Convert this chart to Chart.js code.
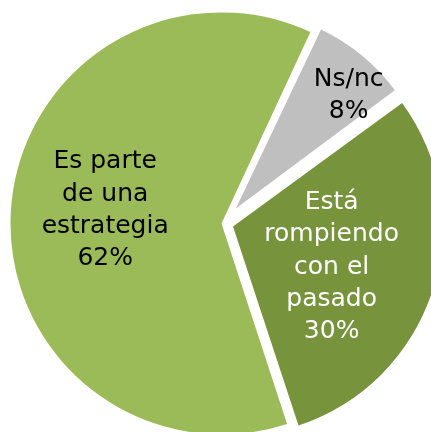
<!DOCTYPE html>
<html>
<head>
<meta charset="utf-8">
<script src="https://cdn.jsdelivr.net/npm/chart.js@4"></script>
<style>
  html, body { margin: 0; padding: 0; background: #fff; }
  #wrap { width: 431px; height: 432px; }
</style>
</head>
<body>
<div id="wrap"><canvas id="pie"></canvas></div>
<script>
// data
const categories = ["Ns/nc", "Está rompiendo con el pasado", "Es parte de una estrategia"];
const labelLines = [["Ns/nc"], ["Está", "rompiendo", "con el", "pasado"], ["Es parte", "de una", "estrategia"]];
const shares = [8, 30, 62];

// look
const colors = ["#BFBFBF", "#77933C", "#9BBB59"];
const textColors = ["#000000", "#ffffff", "#000000"];
const offsets = [78, 40, 8];
const sliceRadius = [188, 209, 209];
const labelDist = [0.85, 0.51, 0.56];
const labelTurn = [5.5, 4.5, 3];
const lineHeight = 32.4;

const sliceTweaks = {
  id: "sliceTweaks",
  afterDatasetsUpdate(chart) {
    chart.getDatasetMeta(0).data.forEach((arc, i) => { arc.outerRadius = sliceRadius[i]; });
  },
  afterDatasetsDraw(chart) {
    const ctx = chart.ctx;
    ctx.save();
    ctx.font = '25px "DejaVu Sans"';
    ctx.textAlign = "center";
    ctx.textBaseline = "middle";
    chart.getDatasetMeta(0).data.forEach((arc, i) => {
      const mid = (arc.startAngle + arc.endAngle) / 2;
      const shift = offsets[i] / 4;
      const a = mid + labelTurn[i] * Math.PI / 180;
      const r = arc.outerRadius * labelDist[i];
      const cx = arc.x + Math.cos(mid) * shift + Math.cos(a) * r;
      const cy = arc.y + Math.sin(mid) * shift + Math.sin(a) * r;
      const lines = labelLines[i].concat(shares[i] + "%");
      ctx.fillStyle = textColors[i];
      lines.forEach((t, k) => ctx.fillText(t, cx, cy + (k - (lines.length - 1) / 2) * lineHeight));
    });
    ctx.restore();
  }
};

new Chart(document.getElementById("pie"), {
  type: "pie",
  data: {
    labels: categories,
    datasets: [{
      data: shares,
      backgroundColor: colors,
      offset: offsets,
      borderWidth: 0,
      clip: false
    }]
  },
  options: {
    responsive: true,
    maintainAspectRatio: false,
    animation: false,
    events: [],
    rotation: 25,
    radius: 209,
    layout: { padding: { left: 16, top: 15 } },
    plugins: {
      legend: { display: false },
      tooltip: { enabled: false }
    }
  },
  plugins: [sliceTweaks]
});
</script>
</body>
</html>
